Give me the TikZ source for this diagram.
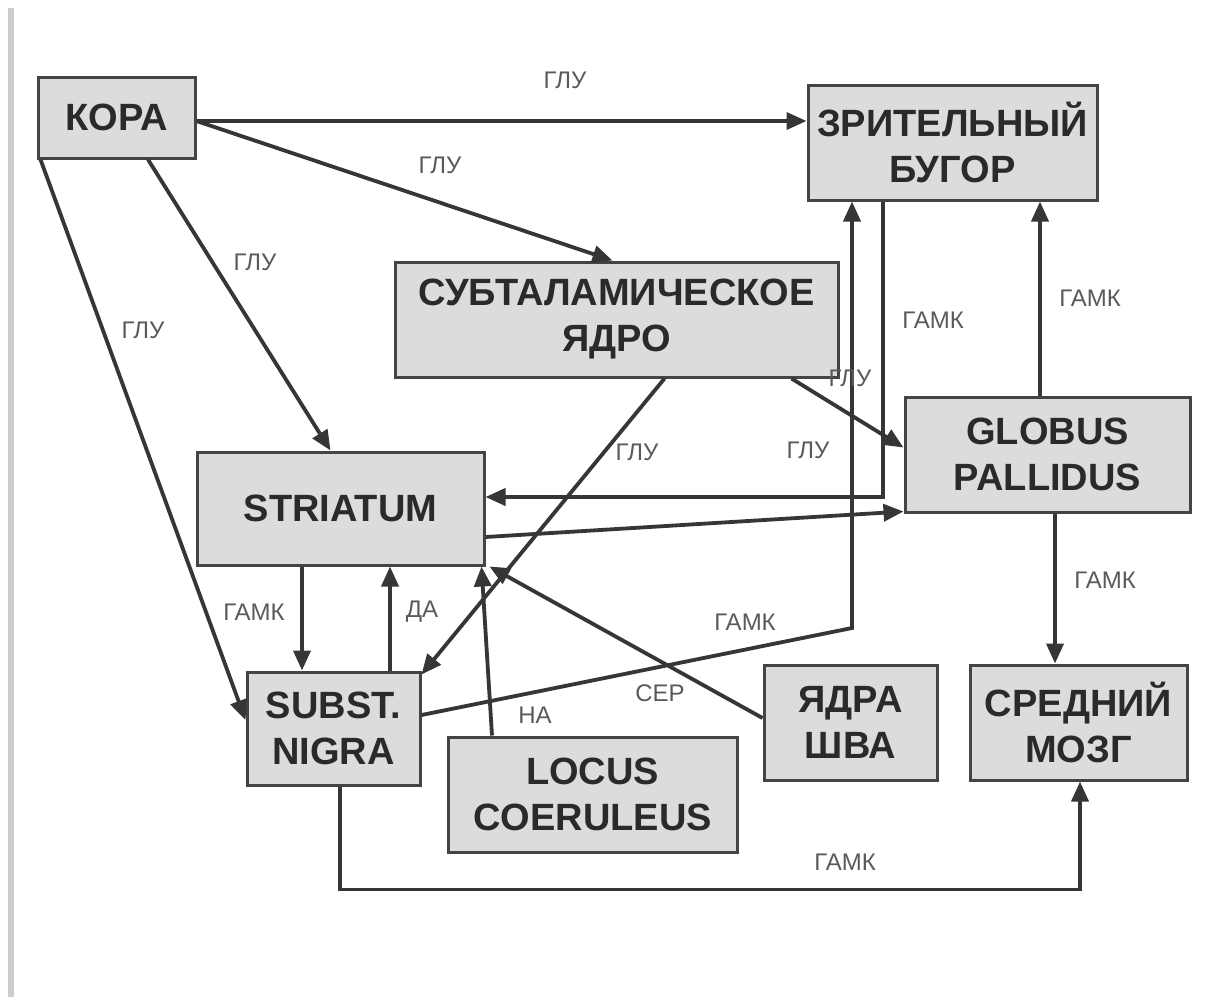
\documentclass[tikz,border=0pt]{standalone}
\usepackage{fontspec}
\setmainfont{Liberation Sans}
\usetikzlibrary{arrows.meta,calc}
\definecolor{boxfill}{HTML}{DCDCDC}
\definecolor{boxline}{HTML}{444444}
\definecolor{linecol}{HTML}{363636}
\definecolor{txtcol}{HTML}{2A2A2A}
\definecolor{lblcol}{HTML}{5A5A5A}
\tikzset{
  region/.style={draw=boxline, line width=3pt, fill=boxfill, text=txtcol,
    font=\fontsize{38}{46}\selectfont\bfseries, align=center, inner sep=0pt},
  arr/.style={draw=linecol, line width=3.8pt,
    -{Triangle[length=20pt,width=17pt]}},
  lbl/.style={text=lblcol, font=\fontsize{24}{28}\selectfont, inner sep=0pt}
}
\begin{document}
\begin{tikzpicture}[x=1pt,y=-1pt]
\useasboundingbox (0,0) rectangle (1209,997);
\fill[white] (0,0) rectangle (1209,997);
\fill[gray!40] (8,8) rectangle (14,997);
% nodes
\node[region, minimum width=157pt, minimum height=81pt] (kora) at (116.5,117.5) {КОРА};
\node[region, minimum width=289pt, minimum height=115pt] (bugor) at (952.5,142.5) {ЗРИТЕЛЬНЫЙ\\БУГОР};
\node[region, minimum width=443pt, minimum height=115pt] (subth) at (616.5,319.5) {СУБТАЛАМИЧЕСКОЕ\\ЯДРО};
\node[region, minimum width=285pt, minimum height=115pt] (gp) at (1047.5,454.5) {GLOBUS\\PALLIDUS};
\node[region, minimum width=287pt, minimum height=113pt] (str) at (340.5,508.5) {STRIATUM};
\node[region, minimum width=173pt, minimum height=113pt] (sn) at (333.5,728.5) {SUBST.\\NIGRA};
\node[region, minimum width=289pt, minimum height=115pt] (lc) at (592.5,794.5) {LOCUS\\COERULEUS};
\node[region, minimum width=173pt, minimum height=115pt] (shva) at (850.5,722.5) {ЯДРА\\ШВА};
\node[region, minimum width=217pt, minimum height=115pt] (mozg) at (1078.5,722.5) {СРЕДНИЙ\\МОЗГ};
% connectors
\draw[arr] ([yshift=-3.5pt]kora.east) coordinate (k1) -- (k1 -| bugor.west);
\draw[arr] ([yshift=-3.5pt]kora.east) -- ([xshift=-4pt]subth.north);
\draw[arr] ([xshift=31.5pt]kora.south) -- ([xshift=-10pt]str.north);
\draw[arr] ([xshift=4pt]kora.south west) -- ([yshift=8.5pt]sn.west);
\draw[arr] ([xshift=48pt]subth.south) -- ([yshift=-4pt]sn.north east);
\draw[arr] ([xshift=-48pt]subth.south east) -- ([yshift=7pt]gp.west);
\draw[arr] ([xshift=-69.5pt]bugor.south) |- ([yshift=11.5pt]str.east);
\draw[arr] ([yshift=-28.5pt]str.east) -- ([yshift=2pt]gp.south west);
\draw[arr] ([xshift=-7.5pt]gp.north) coordinate (g1) -- (g1 |- bugor.south);
\draw[arr] ([xshift=7.5pt]gp.south) coordinate (g2) -- (g2 |- mozg.north);
\draw[arr] ([xshift=-38.5pt]str.south) coordinate (s1) -- (s1 |- sn.north);
\draw[arr] ([xshift=56.5pt]sn.north) coordinate (n1) -- (n1 |- str.south);
\draw[arr] ([xshift=-100.5pt]lc.north) -- ([xshift=-4pt]str.south east);
\draw[arr] ([yshift=4.5pt]shva.west) -- ([xshift=4pt]str.south east);
\coordinate (bend) at (852,628);
\draw[arr] ([yshift=13.5pt]sn.east) -- (bend) -- (bend |- bugor.south);
\draw[arr] ([xshift=6.5pt]sn.south) -- ++(0,103) -| ([xshift=1.5pt]mozg.south);
% labels
\node[lbl] (l1) at (565,80) {ГЛУ};
\node[lbl] (l2) at (440,165) {ГЛУ};
\node[lbl] (l3) at (255,262) {ГЛУ};
\node[lbl] (l4) at (143,330) {ГЛУ};
\node[lbl] (l5) at (637,452) {ГЛУ};
\node[lbl] (l6) at (850,378) {ГЛУ};
\node[lbl] (l7) at (808,450) {ГЛУ};
\node[lbl] (l8) at (933,320) {ГАМК};
\node[lbl] (l9) at (1090,298) {ГАМК};
\node[lbl] (l10) at (1105,580) {ГАМК};
\node[lbl] (l11) at (254,612) {ГАМК};
\node[lbl] (l12) at (422,612) {ДА};
\node[lbl] (l13) at (745,622) {ГАМК};
\node[lbl] (l14) at (660,693) {СЕР};
\node[lbl] (l15) at (535,715) {НА};
\node[lbl] (l16) at (845,862) {ГАМК};
\end{tikzpicture}
\end{document}
